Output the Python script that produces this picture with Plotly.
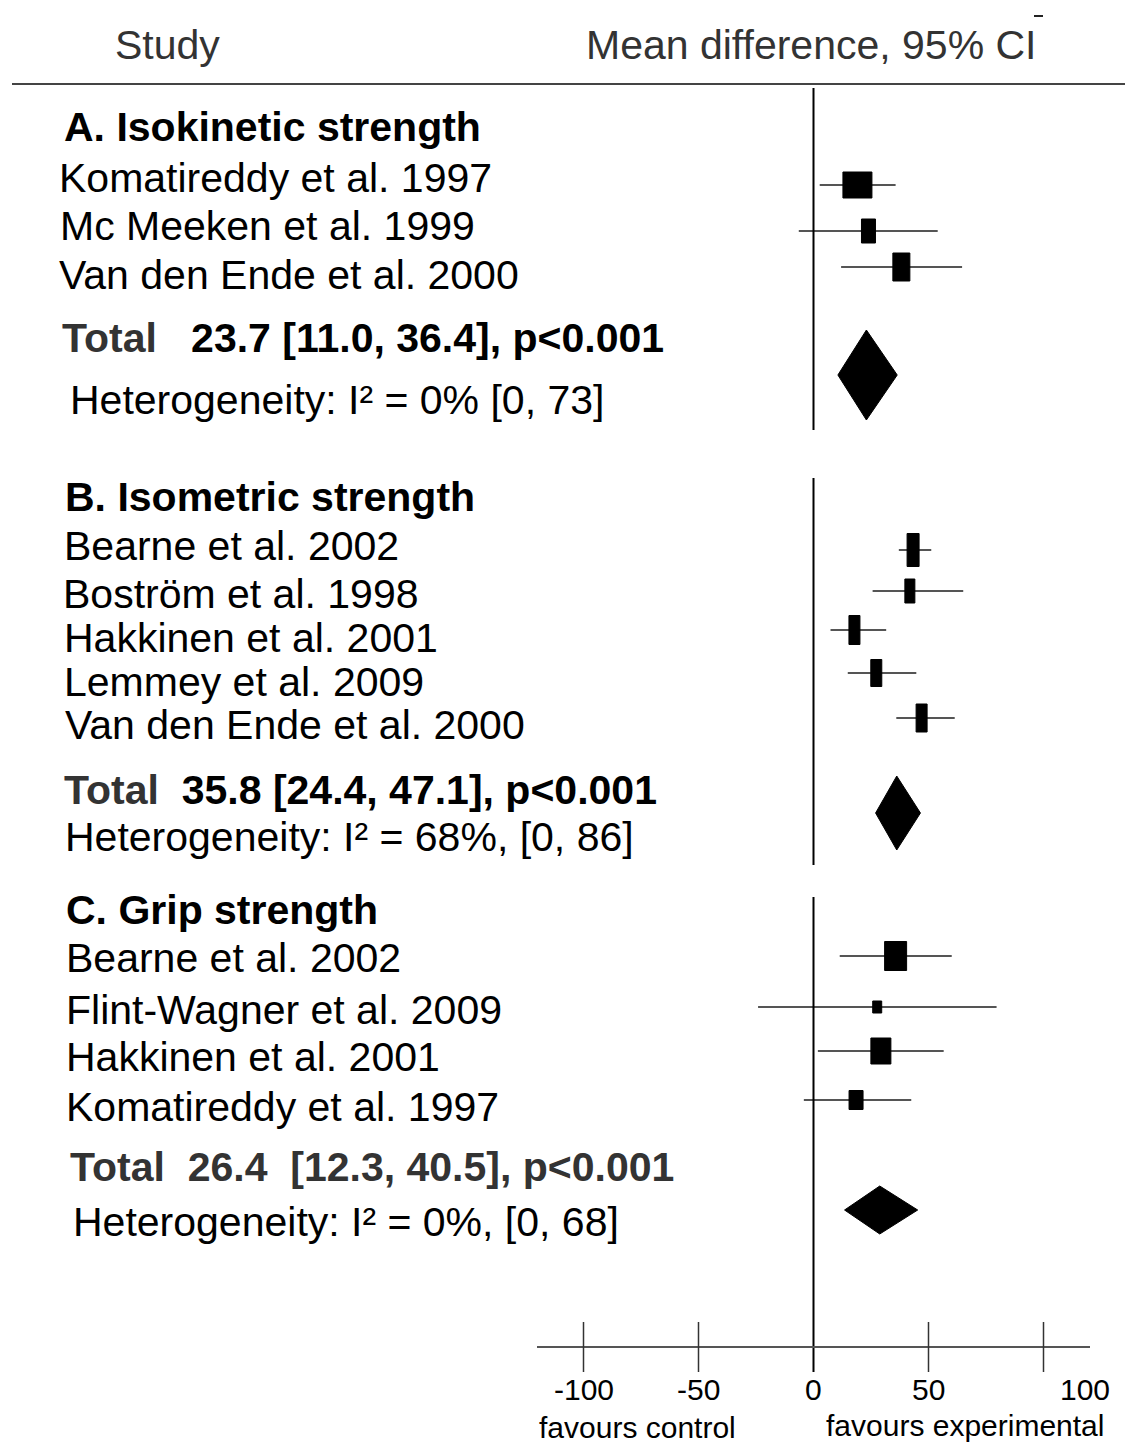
import plotly.graph_objects as go

# ---------------- data ----------------
section_titles = ["A. Isokinetic strength", "B. Isometric strength", "C. Grip strength"]

studies_A = ["Komatireddy et al. 1997", "Mc Meeken et al. 1999", "Van den Ende et al. 2000"]
md_A = [19.1, 23.9, 38.2]
lo_A = [2.7, -6.4, 12.0]
hi_A = [35.7, 54.0, 64.6]

studies_B = ["Bearne et al. 2002", "Boström et al. 1998", "Hakkinen et al. 2001",
             "Lemmey et al. 2009", "Van den Ende et al. 2000"]
md_B = [43.3, 41.9, 17.8, 27.3, 47.0]
lo_B = [37.1, 25.7, 7.4, 14.9, 36.0]
hi_B = [51.2, 65.1, 31.6, 44.7, 61.4]

studies_C = ["Bearne et al. 2002", "Flint-Wagner et al. 2009", "Hakkinen et al. 2001",
             "Komatireddy et al. 1997"]
md_C = [35.7, 27.7, 29.3, 18.5]
lo_C = [11.4, -24.1, 1.9, -4.2]
hi_C = [60.1, 79.6, 56.6, 42.5]

pooled_md = [23.0, 36.2, 28.8]
pooled_lo = [10.6, 27.0, 13.5]
pooled_hi = [36.4, 46.5, 45.3]

total_labels = ["Total", "Total", "Total"]
total_texts = ["   23.7 [11.0, 36.4], p<0.001",
               "  35.8 [24.4, 47.1], p<0.001",
               "  26.4  [12.3, 40.5], p<0.001"]
het_texts = ["Heterogeneity: I² = 0% [0, 73]",
             "Heterogeneity: I² = 68%, [0, 86]",
             "Heterogeneity: I² = 0%, [0, 68]"]

tick_vals = [-100, -50, 0, 50, 100]
tick_labels = ["-100", "-50", "0", "50", "100"]

# ---------------- layout / style (pixels) ----------------
W, H = 1125, 1445
ZERO_PX = 813.5
PX_PER_UNIT = 2.3
FONT = "Liberation Sans, Arial, sans-serif"

# box sizes (px) per study (weights)
box_w_A = [29, 14, 17]
box_h_A = [26, 24, 28]
box_w_B = [12, 10, 11, 11, 11]
box_h_B = [33, 24, 29, 27, 28]
box_w_C = [22, 9, 20, 14]
box_h_C = [29, 12, 26, 19]

row_y_A = [185, 231, 267]
row_y_B = [550, 591, 630, 673, 718]
row_y_C = [956, 1007, 1051, 1100]
label_y_A = [178, 226, 275]
label_y_B = [546, 594, 638, 682, 725]
label_y_C = [958, 1010, 1057, 1107]
label_x_A = [57, 58, 57]
label_x_B = [62, 61, 62, 62, 63]
label_x_C = [64, 64, 64, 64]
title_pos = [(62, 127), (63, 497), (64, 910)]
total_pos = [(60, 338), (62, 790), (68, 1167)]
het_pos = [(68, 400), (63, 837), (71, 1222)]
diamond_y = [375, 813, 1210]
diamond_half_h = [45, 37, 24]
zero_segments = [(88, 430), (478, 865), (897, 1372)]
axis_y = 1347
axis_x_px = (537, 1090)
tick_half = 25
tick_label_y = 1389
tick_label_shift = [0, 0, 0, 0, 41]
SMALL = 30

x_min = -ZERO_PX / PX_PER_UNIT
x_max = (W - ZERO_PX) / PX_PER_UNIT


def px2x(px):
    return (px - ZERO_PX) / PX_PER_UNIT


sections = [
    dict(studies=studies_A, md=md_A, lo=lo_A, hi=hi_A, bw=box_w_A, bh=box_h_A,
         ry=row_y_A, ly=label_y_A, lx=label_x_A),
    dict(studies=studies_B, md=md_B, lo=lo_B, hi=hi_B, bw=box_w_B, bh=box_h_B,
         ry=row_y_B, ly=label_y_B, lx=label_x_B),
    dict(studies=studies_C, md=md_C, lo=lo_C, hi=hi_C, bw=box_w_C, bh=box_h_C,
         ry=row_y_C, ly=label_y_C, lx=label_x_C),
]

fig = go.Figure()
shapes = []
annotations = []


def text(x_px, y, s, size=41, bold=False, color="black", anchor="left"):
    annotations.append(dict(
        x=x_px / W, xref="paper", y=y, yref="y", text=s, showarrow=False,
        xanchor=anchor, yanchor="middle",
        font=dict(family=FONT, size=size, color=color),
    ))


# header
text(167, 45, "Study", color="#333333", anchor="center")
text(811, 45, "Mean difference, 95% CI", color="#333333", anchor="center")
shapes.append(dict(type="line", xref="paper", yref="y", x0=12 / W, x1=1.0, y0=84, y1=84,
                   line=dict(color="#444444", width=2)))
shapes.append(dict(type="line", xref="paper", yref="y", x0=1034 / W, x1=1043 / W, y0=16, y1=16,
                   line=dict(color="#222222", width=2)))

# zero line segments
for (y0, y1) in zero_segments:
    shapes.append(dict(type="line", xref="x", yref="y", x0=0, x1=0, y0=y0, y1=y1,
                       line=dict(color="black", width=2)))

for i, sec in enumerate(sections):
    # title
    tx, ty = title_pos[i]
    text(tx, ty, "<b>" + section_titles[i] + "</b>")
    # study labels
    for name, lx, ly in zip(sec["studies"], sec["lx"], sec["ly"]):
        text(lx, ly, name)
    # CI lines
    xs, ys = [], []
    for lo, hi, ry in zip(sec["lo"], sec["hi"], sec["ry"]):
        xs += [lo, hi, None]
        ys += [ry, ry, None]
    fig.add_trace(go.Scatter(x=xs, y=ys, mode="lines",
                             line=dict(color="#555555", width=2),
                             hoverinfo="skip", showlegend=False))
    # boxes
    for md, ry, bw, bh in zip(sec["md"], sec["ry"], sec["bw"], sec["bh"]):
        shapes.append(dict(type="rect", xref="x", yref="y", xsizemode="pixel", xanchor=md,
                           x0=-bw / 2, x1=bw / 2, y0=ry - bh / 2, y1=ry + bh / 2,
                           fillcolor="black", line=dict(color="black", width=1)))
    # diamond
    yc, hh = diamond_y[i], diamond_half_h[i]
    fig.add_trace(go.Scatter(
        x=[pooled_lo[i], pooled_md[i], pooled_hi[i], pooled_md[i], pooled_lo[i]],
        y=[yc, yc - hh, yc, yc + hh, yc],
        mode="lines", fill="toself", fillcolor="black",
        line=dict(color="black", width=1), hoverinfo="skip", showlegend=False))
    # total + heterogeneity
    px_, py_ = total_pos[i]
    tot_color = "#333333" if i == 2 else "black"
    text(px_, py_, "<b><span style='color:#333333'>" + total_labels[i] + "</span>"
         + "<span style='color:%s'>" % tot_color + total_texts[i].replace(" ", "&nbsp;")
         + "</span></b>")
    hx, hy = het_pos[i]
    text(hx, hy, het_texts[i])

# x axis (drawn through data scale)
shapes.append(dict(type="line", xref="x", yref="y", x0=px2x(axis_x_px[0]), x1=px2x(axis_x_px[1]),
                   y0=axis_y, y1=axis_y, line=dict(color="#555555", width=2)))
for tv, tl, sh in zip(tick_vals, tick_labels, tick_label_shift):
    if tv != 0:
        shapes.append(dict(type="line", xref="x", yref="y", x0=tv, x1=tv,
                           y0=axis_y - tick_half, y1=axis_y + tick_half,
                           line=dict(color="#333333", width=1.5)))
    annotations.append(dict(x=tv, xref="x", y=tick_label_y, yref="y", text=tl,
                            showarrow=False, xanchor="center", yanchor="middle", xshift=sh,
                            font=dict(family=FONT, size=SMALL, color="black")))
text(637, 1427, "favours control", size=SMALL, anchor="center")
text(965, 1425, "favours experimental", size=SMALL, anchor="center")

fig.update_layout(
    width=W, height=H, autosize=False,
    margin=dict(l=0, r=0, t=0, b=0, pad=0),
    paper_bgcolor="white", plot_bgcolor="white",
    xaxis=dict(range=[x_min, x_max], visible=False, fixedrange=True),
    yaxis=dict(range=[H, 0], visible=False, fixedrange=True),
    shapes=shapes, annotations=annotations, showlegend=False,
)

fig.write_html(
    "out.html",
    config={"displayModeBar": False},
    post_script="document.body.style.margin='0';document.body.style.padding='0';"
                "document.body.style.overflow='hidden';",
)
